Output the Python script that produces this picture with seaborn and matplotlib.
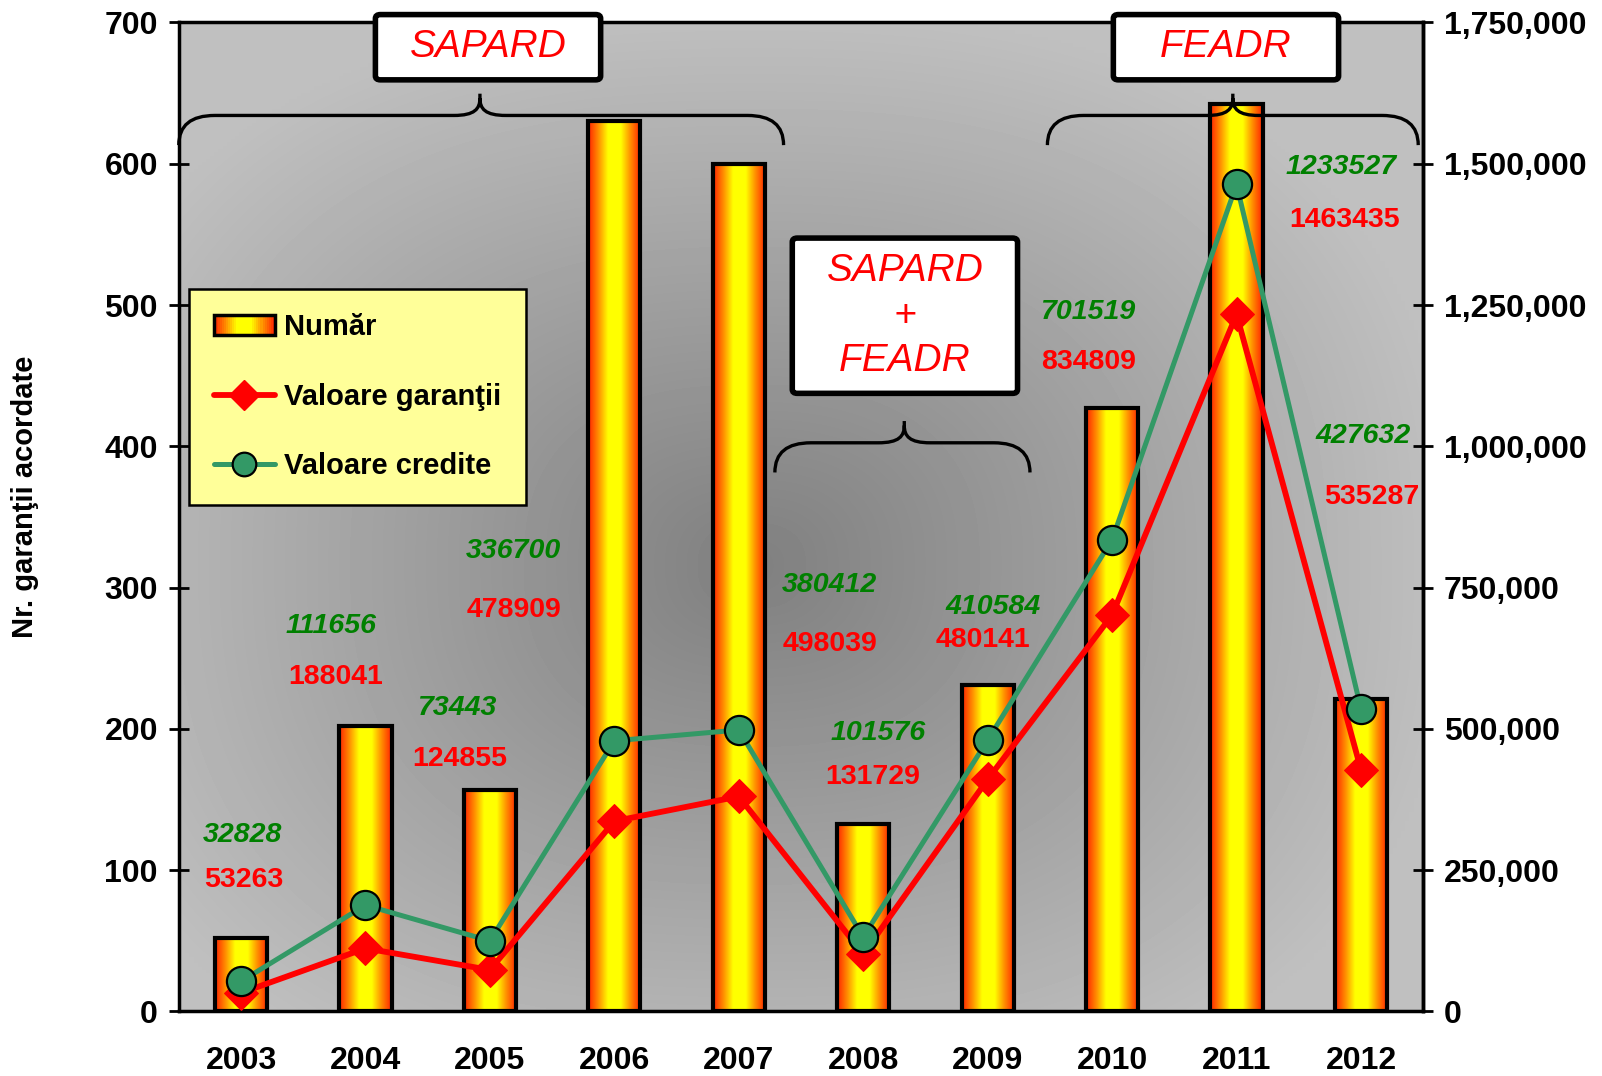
import numpy as np
import seaborn as sns
import matplotlib.pyplot as plt
from matplotlib.colors import LinearSegmentedColormap
from matplotlib.patches import Rectangle, Patch, FancyBboxPatch, PathPatch
from matplotlib.path import Path
from matplotlib.lines import Line2D
from matplotlib.legend_handler import HandlerBase
from matplotlib.ticker import FuncFormatter, MultipleLocator, FixedLocator

YEARS = ["2003", "2004", "2005", "2006", "2007", "2008", "2009", "2010", "2011", "2012"]
NUMAR = [52, 202, 157, 630, 600, 133, 231, 427, 642, 221]
VALOARE_GARANTII = [32828, 111656, 73443, 336700, 380412, 101576, 410584, 701519, 1233527, 427632]
VALOARE_CREDITE = [53263, 188041, 124855, 478909, 498039, 131729, 480141, 834809, 1463435, 535287]

# where the value labels sit (category x, left axis y)
GREEN_LABEL_POS = [(0.01, 125), (0.72, 273), (1.73, 215), (2.19, 326), (4.73, 302),
                   (5.12, 197), (6.04, 286), (6.80, 495), (8.84, 598), (9.02, 407)]
RED_LABEL_POS = [(0.02, 93), (0.76, 237), (1.76, 179), (2.19, 284), (4.73, 260),
                 (5.08, 166), (5.96, 263), (6.81, 460), (8.87, 560), (9.09, 364)]

RED = "#ff0000"
GREEN_LINE = "#339966"
GREEN_TEXT = "#008000"

BAR_CMAP = LinearSegmentedColormap.from_list(
    "bar", [(0.0, "#ff2000"), (0.2, "#ff9000"), (0.38, "#ffff00"),
            (0.62, "#ffff00"), (0.8, "#ff9000"), (1.0, "#ff2000")])


class GradientHandler(HandlerBase):
    """Legend handle drawn as the same orange-yellow gradient as the bars."""
    def create_artists(self, legend, orig_handle, xdescent, ydescent, width, height, fontsize, trans):
        n = 30
        artists = []
        for i in range(n):
            artists.append(Rectangle((-xdescent + width * i / n, -ydescent), width / n + 0.3, height,
                                     facecolor=BAR_CMAP((i + 0.5) / n), edgecolor="none", transform=trans))
        artists.append(Rectangle((-xdescent, -ydescent), width, height, facecolor="none",
                                 edgecolor="black", lw=2.5, transform=trans))
        return artists


def draw_brace(ax, x0, x1, xm, y, drop=0.030, rise=0.022, rx_end=0.029, rx_tip=0.021):
    """Curly brace in axes coordinates, tip pointing up."""
    verts = [
        (x0, y - drop), (x0, y), (x0 + rx_end, y),
        (xm - rx_tip, y),
        (xm - rx_tip * 0.2, y), (xm, y + rise * 0.3), (xm, y + rise * 0.8),
        (xm, y + rise),
        (xm, y + rise * 0.8),
        (xm, y + rise * 0.3), (xm + rx_tip * 0.2, y), (xm + rx_tip, y),
        (x1 - rx_end, y),
        (x1, y), (x1, y - drop),
    ]
    codes = [Path.MOVETO, Path.CURVE3, Path.CURVE3,
             Path.LINETO,
             Path.CURVE4, Path.CURVE4, Path.CURVE4,
             Path.LINETO,
             Path.MOVETO,
             Path.CURVE4, Path.CURVE4, Path.CURVE4,
             Path.LINETO,
             Path.CURVE3, Path.CURVE3]
    ax.add_patch(PathPatch(Path(verts, codes), facecolor="none", edgecolor="black", lw=2.4,
                           transform=ax.transAxes, clip_on=False, zorder=6))


def draw_box(ax, x0, y0, x1, y1, text):
    ax.add_patch(FancyBboxPatch((x0, y0), x1 - x0, y1 - y0, boxstyle="round,pad=0,rounding_size=0.004",
                                facecolor="white", edgecolor="black", lw=4, transform=ax.transAxes,
                                clip_on=False, zorder=7))
    ax.text((x0 + x1) / 2, (y0 + y1) / 2, text, transform=ax.transAxes, ha="center", va="center",
            color=RED, fontsize=28, fontstyle="italic", fontweight="normal", linespacing=1.32,
            zorder=8, clip_on=False)


sns.set_style("white")
plt.rcParams["font.family"] = ["Liberation Sans", "DejaVu Sans"]
plt.rcParams["font.weight"] = "bold"
for key in ["text.color", "axes.labelcolor", "xtick.color", "ytick.color", "axes.edgecolor"]:
    plt.rcParams[key] = "black"

fig = plt.figure(figsize=(16.02, 10.76), dpi=100)
ax = fig.add_axes([0.1116, 0.0600, 0.7768, 0.9191])

# grey background, darker towards the middle
gx, gy = np.meshgrid(np.linspace(0, 1, 300), np.linspace(0, 1, 300))
dist = (np.abs((gx - 0.46) / 0.56) ** 2.5 + np.abs((gy - 0.45) / 0.56) ** 2.5) ** (1 / 2.5)
shade = 0.50 + 0.25 * np.clip(dist, 0, 1)
ax.imshow(shade, cmap="gray", vmin=0, vmax=1, extent=(-0.5, 9.5, 0, 700), origin="lower",
          aspect="auto", zorder=0, interpolation="bilinear")

sns.barplot(x=YEARS, y=NUMAR, ax=ax, color="orange", width=0.42, edgecolor="black",
            linewidth=3, zorder=2)
grad = np.linspace(0, 1, 256).reshape(1, -1)
for bar in ax.patches:
    bx, by, bw, bh = bar.get_x(), bar.get_y(), bar.get_width(), bar.get_height()
    bar.set_facecolor("none")
    im = ax.imshow(grad, cmap=BAR_CMAP, extent=(bx, bx + bw, by, by + bh), aspect="auto", zorder=1.5)
    im.set_clip_path(bar)

ax.set_xlim(-0.5, 9.5)
ax.set_ylim(0, 700)
ax.yaxis.set_major_locator(MultipleLocator(100))
ax.xaxis.set_minor_locator(FixedLocator(np.arange(-0.5, 10, 1)))
ax.tick_params(axis="x", which="major", length=0, labelsize=23, pad=25)
ax.tick_params(axis="x", which="minor", direction="inout", length=14, width=2)
ax.tick_params(axis="y", direction="inout", length=14, width=2, labelsize=23, pad=8)
for s in ax.spines.values():
    s.set_linewidth(2.5)
    s.set_color("black")
ax.set_xlabel("")
ax.set_ylabel("Nr. garanţii acordate", fontsize=21, fontweight="bold")
ax.yaxis.set_label_coords(-0.112, 0.52)

ax2 = ax.twinx()
x_pos = np.arange(len(YEARS))
sns.lineplot(x=x_pos, y=VALOARE_GARANTII, ax=ax2, color=RED, lw=4.2, marker="D", markersize=17,
             markeredgecolor=RED, sort=False, zorder=4)
sns.lineplot(x=x_pos, y=VALOARE_CREDITE, ax=ax2, color=GREEN_LINE, lw=3.6, marker="o", markersize=21,
             markerfacecolor=GREEN_LINE, markeredgecolor="black", markeredgewidth=1.6, sort=False, zorder=5)
ax2.set_xlim(-0.5, 9.5)
ax2.set_ylim(0, 1750000)
ax2.yaxis.set_major_locator(MultipleLocator(250000))
ax2.yaxis.set_major_formatter(FuncFormatter(lambda v, p: f"{int(v):,}"))
ax2.tick_params(axis="y", direction="inout", length=14, width=2, labelsize=23, pad=8)
for name, s in ax2.spines.items():
    s.set_visible(name == "right")
    s.set_linewidth(2.5)

# value labels (green italic above, red below)
for (lx, ly), val in zip(GREEN_LABEL_POS, VALOARE_GARANTII):
    ax2.text(lx, ly, str(val), transform=ax.transData, ha="center", va="center",
             color=GREEN_TEXT, fontsize=20.5, fontstyle="italic", fontweight="bold", zorder=6)
for (lx, ly), val in zip(RED_LABEL_POS, VALOARE_CREDITE):
    ax2.text(lx, ly, str(val), transform=ax.transData, ha="center", va="center",
             color=RED, fontsize=20.5, fontweight="bold", zorder=6)

# programme braces and boxes
draw_brace(ax2, 0.0, 0.486, 0.242, 0.906)
draw_brace(ax2, 0.698, 0.996, 0.847, 0.906)
draw_brace(ax2, 0.479, 0.684, 0.583, 0.575)
draw_box(ax2, 0.158, 0.942, 0.339, 1.008, "SAPARD")
draw_box(ax2, 0.751, 0.942, 0.932, 1.008, "FEADR")
draw_box(ax2, 0.493, 0.625, 0.674, 0.782, "SAPARD\n+\nFEADR")

bar_handle = Patch(label="Număr")
handles = [
    bar_handle,
    Line2D([], [], color=RED, lw=4.2, marker="D", markersize=15, label="Valoare garanţii"),
    Line2D([], [], color=GREEN_LINE, lw=3.6, marker="o", markersize=17, markerfacecolor=GREEN_LINE,
           markeredgecolor="black", markeredgewidth=1.6, label="Valoare credite"),
]
leg = ax2.legend(handles=handles, handler_map={bar_handle: GradientHandler()}, loc="upper left",
                 bbox_to_anchor=(0.008, 0.731), borderaxespad=0, fontsize=21, frameon=True,
                 fancybox=False, facecolor="#ffff99", edgecolor="black", framealpha=1,
                 borderpad=0.85, labelspacing=1.42, handlelength=2.1, handletextpad=0.3)
leg.get_frame().set_linewidth(1.8)
leg.set_zorder(9)

fig.savefig("out.png", dpi=100)
